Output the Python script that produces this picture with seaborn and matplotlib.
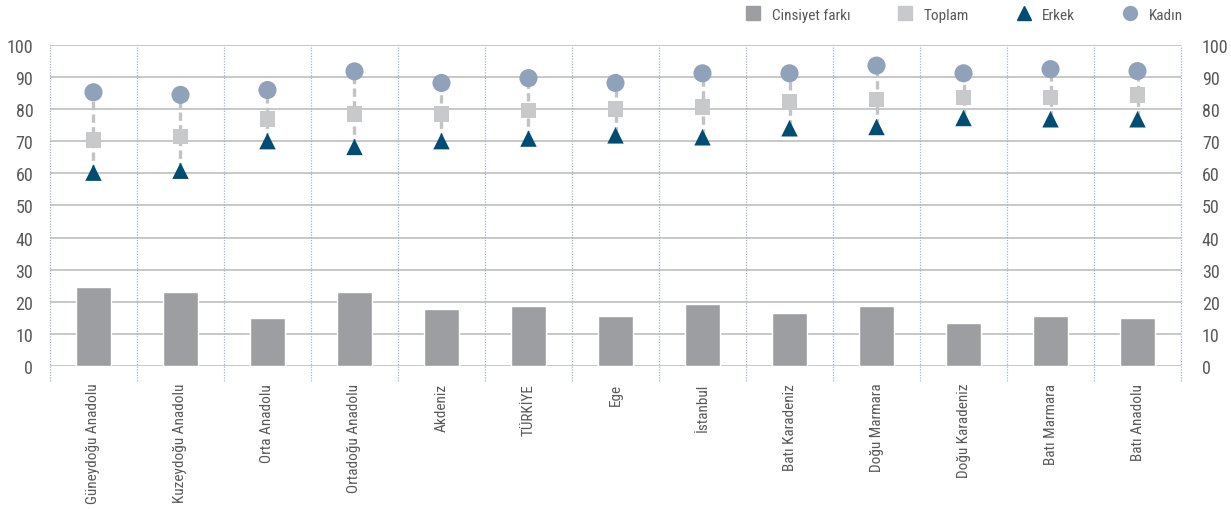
import numpy as np
import pandas as pd
import matplotlib
matplotlib.use("Agg")
import matplotlib.pyplot as plt
from matplotlib.lines import Line2D
from matplotlib import font_manager
import seaborn as sns

regions = ["Güneydoğu Anadolu", "Kuzeydoğu Anadolu", "Orta Anadolu", "Ortadoğu Anadolu",
           "Akdeniz", "TÜRKİYE", "Ege", "İstanbul", "Batı Karadeniz", "Doğu Marmara",
           "Doğu Karadeniz", "Batı Marmara", "Batı Anadolu"]
gap = [24.5, 23.1, 14.9, 23.1, 17.9, 18.6, 15.6, 19.3, 16.5, 18.6, 13.4, 15.6, 14.9]
toplam = [70.4, 71.4, 76.9, 78.4, 78.4, 79.5, 80.0, 80.7, 82.1, 82.9, 83.6, 83.6, 84.4]
erkek = [60.2, 60.8, 70.0, 68.2, 70.0, 70.8, 71.8, 71.2, 74.0, 74.4, 77.2, 76.8, 76.8]
kadin = [85.2, 84.4, 85.9, 91.7, 88.1, 89.6, 88.1, 91.1, 91.1, 93.5, 91.1, 92.4, 91.8]
yticks = [0, 10, 20, 30, 40, 50, 60, 70, 80, 90, 100]

df = pd.DataFrame({"region": regions, "gap": gap, "toplam": toplam,
                   "erkek": erkek, "kadin": kadin})

sns.set_theme(style="white")

# pick a narrow/condensed font if one is installed
names = sorted({f.name for f in font_manager.fontManager.ttflist})
narrow = [n for n in names if ("Narrow" in n or "Condensed" in n)]
pref = []
for cand in ["Liberation Sans Narrow", "Roboto Condensed", "Open Sans Condensed",
             "DejaVu Sans Condensed", "Noto Sans Condensed"]:
    if cand in names:
        pref.append(cand)
pref += [n for n in narrow if n not in pref]
font_list = (pref[:1] if pref else []) + ["DejaVu Sans"]
plt.rcParams["font.family"] = font_list
plt.rcParams["font.stretch"] = "condensed"

c_gap = "#9d9ea2"
c_top = "#c8c9cb"
c_erk = "#004d74"
c_kad = "#8fa2ba"
c_txt = "#595959"

fig = plt.figure(figsize=(12.31, 5.10), dpi=100)
ax = fig.add_axes([0.0406, 0.280, 0.9188, 0.6304])

sns.barplot(data=df, x="region", y="gap", color=c_gap, width=0.41,
            saturation=1, ax=ax, zorder=3)
pos = np.arange(len(regions))
ax.vlines(pos, df["erkek"], df["kadin"], colors="#c3c3c3", linewidth=2.4,
          linestyles=(0, (2.5, 1.3)), zorder=4)
sns.scatterplot(data=df, x="region", y="toplam", marker="s", s=125, color=c_top,
                edgecolor="none", ax=ax, zorder=5)
sns.scatterplot(data=df, x="region", y="erkek", marker="^", s=140, color=c_erk,
                edgecolor="none", ax=ax, zorder=5)
sns.scatterplot(data=df, x="region", y="kadin", marker="o", s=170, color=c_kad,
                edgecolor="none", ax=ax, zorder=5)

ax.set_xlim(-0.5, len(regions) - 0.5)
ax.set_ylim(0, 100)
ax.set_yticks(yticks)
for y in yticks:
    ax.axhline(y, color="#c8c8c8", linewidth=1.4, zorder=1)
for b in np.arange(len(regions) + 1) - 0.5:
    ax.axvline(b, ymin=-0.047, ymax=1, color="#9fb2d6", linewidth=0.9,
               linestyle=(0, (1, 1.2)), zorder=2, clip_on=False)

for s in ax.spines.values():
    s.set_visible(False)
ax.set_xlabel("")
ax.set_ylabel("")
ax.tick_params(axis="y", length=0, pad=12, labelsize=13, labelcolor=c_txt)
ax.tick_params(axis="x", length=0, pad=12, labelsize=11, labelcolor=c_txt)
ax.set_xticks(pos)
ax.set_xticklabels(regions, rotation=90, ha="center", va="top")

ax2 = ax.twinx()
ax2.set_ylim(0, 100)
ax2.set_yticks(yticks)
for s in ax2.spines.values():
    s.set_visible(False)
ax2.tick_params(axis="y", length=0, pad=15, labelsize=13, labelcolor=c_txt)

handles = [
    Line2D([], [], marker="s", linestyle="none", color=c_gap, markersize=10),
    Line2D([], [], marker="s", linestyle="none", color=c_top, markersize=10),
    Line2D([], [], marker="^", linestyle="none", color=c_erk, markersize=10),
    Line2D([], [], marker="o", linestyle="none", color=c_kad, markersize=10),
]
labels = ["Cinsiyet farkı", "Toplam", "Erkek", "Kadın"]
fig.legend(handles, labels, ncol=4, frameon=False, loc="upper right",
           bbox_to_anchor=(0.972, 1.01), fontsize=11, labelcolor=c_txt,
           columnspacing=3.0, handletextpad=0.6, handlelength=1.2)

fig.savefig("out.png", dpi=100)
